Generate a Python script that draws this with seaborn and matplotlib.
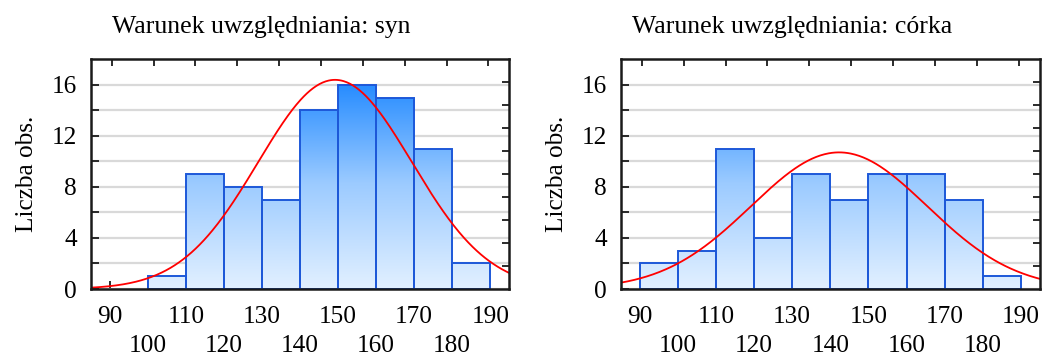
import numpy as np
import pandas as pd
import matplotlib
matplotlib.use("Agg")
import matplotlib.pyplot as plt
import seaborn as sns
from matplotlib.colors import LinearSegmentedColormap

# ---- data ----
bin_edges = [90, 100, 110, 120, 130, 140, 150, 160, 170, 180, 190]
counts_syn = [0, 1, 9, 8, 7, 14, 16, 15, 11, 2]
counts_corka = [2, 3, 11, 4, 9, 7, 9, 9, 7, 1]
titles = ["Warunek uwzględniania: syn", "Warunek uwzględniania: córka"]
# fitted normal curve parameters
mean_syn, sd_syn = 149.2, 20.2
mean_corka, sd_corka = 142.3, 23.1
ylabel = "Liczba obs."
yticks_major = [0, 4, 8, 12, 16]
xticks_top_row = [90, 110, 130, 150, 170, 190]
xticks_bottom_row = [100, 120, 140, 160, 180]

sns.set_style("white")
plt.rcParams["font.family"] = ["Liberation Serif", "DejaVu Serif"]
plt.rcParams["text.color"] = "black"
plt.rcParams["xtick.color"] = "black"
plt.rcParams["ytick.color"] = "black"
plt.rcParams["axes.labelcolor"] = "black"
FS = 18.2
TFS = 18.5

fig = plt.figure(figsize=(10.43, 3.6), dpi=100)
positions = [[0.0870, 0.1972, 0.4013, 0.638], [0.5951, 0.1972, 0.402, 0.638]]
title_x = [0.2505, 0.759]

cmap = LinearSegmentedColormap.from_list("g", ["#e2f0ff", "#9ccbff", "#1f88ff"])
edgecol = "#1d58d8"
spinecol = "#1a1a1a"

datasets = [(counts_syn, mean_syn, sd_syn), (counts_corka, mean_corka, sd_corka)]
XMIN, XMAX = 85.0, 195.0
for i, (counts, mu, sd) in enumerate(datasets):
    ax = fig.add_axes(positions[i])
    mids = [(bin_edges[k] + bin_edges[k + 1]) / 2 for k in range(len(counts))]
    df = pd.DataFrame({"x": mids, "w": counts})
    df = df[df["w"] > 0]
    sns.histplot(data=df, x="x", weights="w", bins=bin_edges, ax=ax,
                 stat="count", element="bars", fill=True,
                 edgecolor=edgecol, linewidth=1.4, zorder=3)
    ax.set_xlim(XMIN, XMAX)
    ax.set_ylim(0, 18)
    # gradient fill clipped to each bar
    grad = np.linspace(0, 1, 256).reshape(-1, 1)
    for p in list(ax.patches):
        if p.get_height() <= 0:
            p.set_visible(False)
            continue
        p.set_facecolor("none")
        im = ax.imshow(grad, cmap=cmap, origin="lower", aspect="auto",
                       extent=(XMIN, XMAX, 0, 16.5), vmin=0, vmax=1, zorder=2)
        im.set_clip_path(p)
    ax.set_xlim(XMIN, XMAX)
    ax.set_ylim(0, 18)
    # normal curve
    xs = np.linspace(XMIN, XMAX, 400)
    n = sum(counts)
    ys = n * 10 / (sd * np.sqrt(2 * np.pi)) * np.exp(-0.5 * ((xs - mu) / sd) ** 2)
    sns.lineplot(x=xs, y=ys, ax=ax, color="#ff0000", linewidth=1.3, zorder=4)

    # grid
    ax.set_yticks(yticks_major)
    ax.set_yticks([2, 6, 10, 14], minor=True)
    ax.yaxis.grid(True, which="both", color="#d9d9d9", linewidth=1.6, zorder=0)
    ax.set_axisbelow(True)
    ax.xaxis.grid(False)
    ax.set_yticklabels([str(v) for v in yticks_major], fontsize=FS)
    ax.tick_params(axis="y", which="both", direction="in", length=6, width=1.3,
                   color=spinecol, pad=10, right=False)

    ax.set_xticks(xticks_top_row)
    ax.set_xticklabels([str(v) for v in xticks_top_row], fontsize=FS)
    ax.set_xticks(xticks_bottom_row, minor=True)
    ax.set_xticklabels([str(v) for v in xticks_bottom_row], minor=True, fontsize=FS)
    ax.tick_params(axis="x", which="major", direction="in", length=6, width=1.3,
                   color=spinecol, pad=12.5, top=False)
    ax.tick_params(axis="x", which="minor", direction="in", length=6, width=1.3,
                   color=spinecol, pad=33, top=False)

    ax.set_xlabel("")
    ax.set_ylabel(ylabel, fontsize=FS, labelpad=10)
    for s in ax.spines.values():
        s.set_visible(True)
        s.set_color(spinecol)
        s.set_linewidth(1.8)
        s.set_zorder(5)

    # secondary tick marks on top and right
    axt = ax.twiny()
    axt.set_xlim(0, 1)
    axt.set_xticks([0.05 + 0.1 * k for k in range(10)])
    axt.set_xticklabels([])
    axt.tick_params(axis="x", direction="in", length=5, width=1.3, color=spinecol,
                    top=True, bottom=False)
    axr = ax.twinx()
    axr.set_ylim(0, 1)
    axr.set_yticks([0.1 * k for k in range(1, 10)])
    axr.set_yticklabels([])
    axr.tick_params(axis="y", direction="in", length=5, width=1.3, color=spinecol,
                    right=True, left=False)
    for a in (axt, axr):
        for s in a.spines.values():
            s.set_visible(False)
        a.grid(False)

    fig.text(title_x[i], 0.925, titles[i], fontsize=TFS, ha="center", va="center")

fig.savefig("out.png", dpi=100)
